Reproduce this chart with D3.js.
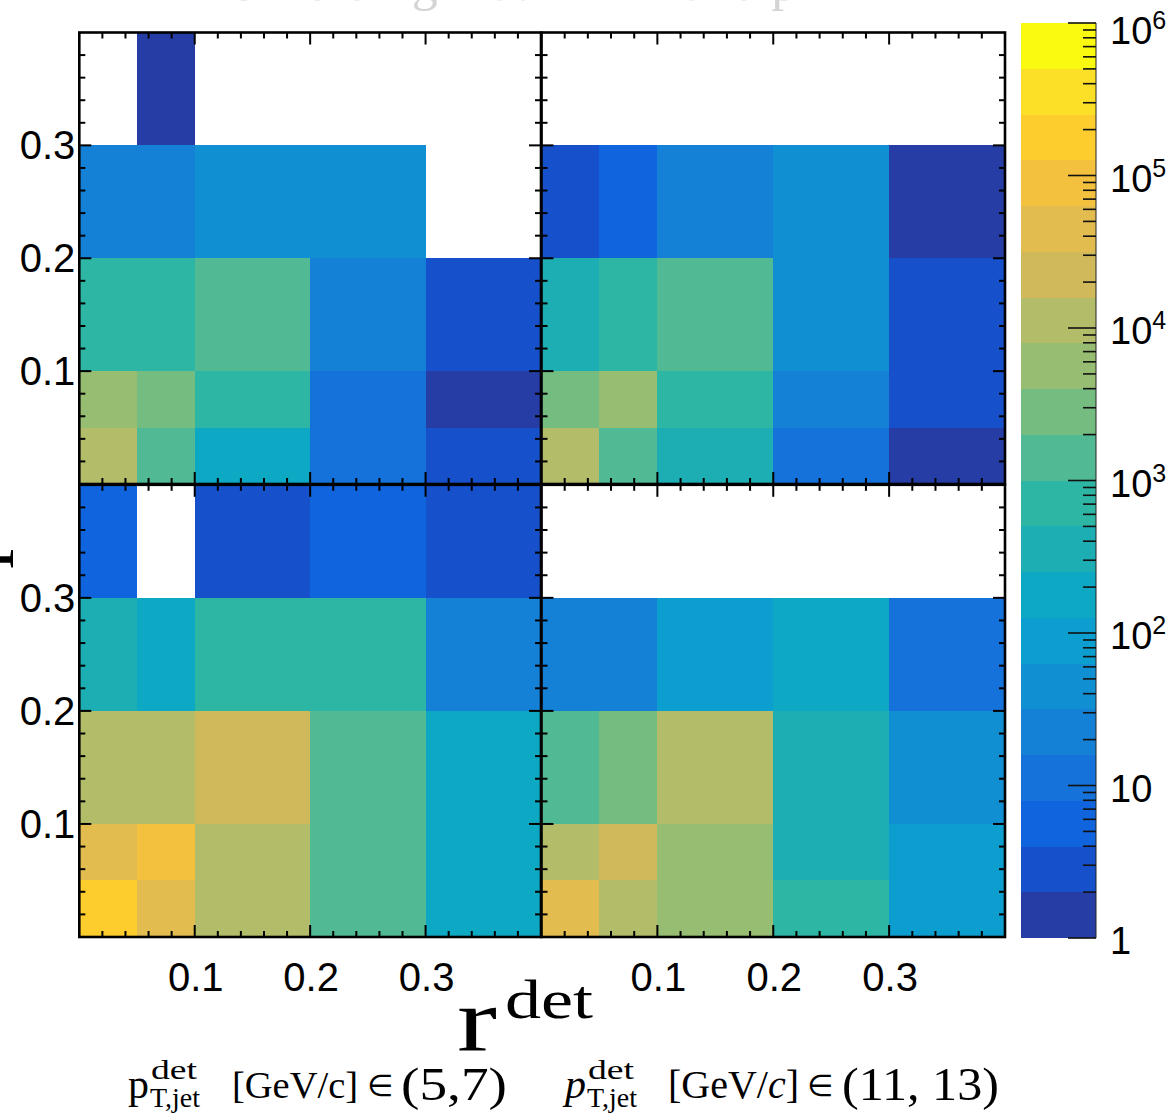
<!DOCTYPE html>
<html><head><meta charset="utf-8">
<script src="https://cdn.jsdelivr.net/npm/d3@7"></script>
<style>html,body{margin:0;padding:0;background:#fff}svg{display:block}</style>
</head><body>
<script>
// ---------- data ----------
const xEdges = [0, 0.05, 0.1, 0.2, 0.3, 0.4];
const yEdges = [0, 0.05, 0.1, 0.2, 0.3, 0.4];
const axisTicks = [0.1, 0.2, 0.3];
const colorbarTicks = [1, 10, 100, 1e3, 1e4, 1e5, 1e6];
const colorbarLabels = ["1", "10", "10|2", "10|3", "10|4", "10|5", "10|6"];
const ptRanges = ["(5,7)", "(11, 13)"];
// counts[y-bin][x-bin], y-bin 0 = [0,0.05)
const countsTopLeft = [
  [12000, 1500, 190, 12, 3],
  [6000, 3000, 760, 12, 1],
  [760, 760, 1500, 24, 3],
  [24, 24, 48, 48, null],
  [null, 1, null, null, null]
];
const countsTopRight = [
  [12000, 1500, 380, 12, 1],
  [3000, 6000, 760, 24, 3],
  [380, 760, 1500, 48, 3],
  [3, 6, 24, 48, 1],
  [null, null, null, null, null]
];
const countsBottomLeft = [
  [190000, 48000, 12000, 1500, 190],
  [48000, 95000, 12000, 1500, 190],
  [12000, 12000, 24000, 1500, 190],
  [380, 190, 760, 760, 24],
  [6, null, 3, 6, 3]
];
const countsBottomRight = [
  [48000, 12000, 6000, 760, 95],
  [12000, 24000, 6000, 380, 95],
  [1500, 3000, 12000, 380, 48],
  [24, 24, 95, 190, 12],
  [null, null, null, null, null]
];

// ---------- style ----------
const palette = ["#273da6","#1650cb","#1064de","#1572da","#1581d6","#118fd3","#0c9ece","#0da8c3",
  "#1daeb4","#2eb6a5","#52b995","#74bc7f","#97bd72","#b3bc68","#d0b95a","#e2bc4f",
  "#f3c13d","#fdcd2e","#fce027","#f9fa0f"];
const W = 1168, H = 1115;
const svg = d3.select("body").append("svg").attr("width", W).attr("height", H);

const colX = [[79.3, 541], [541.5, 1005]];
const rowY = [[32.5, 484], [484.8, 937]];
const panels = [
  {c: 0, r: 0, data: countsTopLeft},
  {c: 1, r: 0, data: countsTopRight},
  {c: 0, r: 1, data: countsBottomLeft},
  {c: 1, r: 1, data: countsBottomRight}
];
const levels = d3.range(1, 20).map(i => Math.pow(10, 0.3 * i));
const color = d3.scaleThreshold().domain(levels).range(palette);
const minorTicks = d3.range(1, 20).map(i => +(i * 0.02).toFixed(2));

// faint (clipped) title
svg.append("text").attr("x", 224).attr("y", 0)
  .attr("font-family", "Liberation Serif, serif").attr("font-size", 52)
  .attr("fill", "#d4d4d4").text("Unfolding matrix in r and p");

panels.forEach(p => {
  const x = d3.scaleLinear().domain([0, 0.4]).range(colX[p.c]);
  const y = d3.scaleLinear().domain([0, 0.4]).range([rowY[p.r][1], rowY[p.r][0]]);
  const g = svg.append("g");
  const cells = [];
  p.data.forEach((row, iy) => row.forEach((v, ix) => { if (v != null) cells.push({ix, iy, v}); }));
  g.selectAll("rect.cell").data(cells).join("rect")
    .attr("x", d => x(xEdges[d.ix]))
    .attr("width", d => x(xEdges[d.ix + 1]) - x(xEdges[d.ix]))
    .attr("y", d => y(yEdges[d.iy + 1]))
    .attr("height", d => y(yEdges[d.iy]) - y(yEdges[d.iy + 1]))
    .attr("fill", d => color(d.v))
    .attr("shape-rendering", "crispEdges");
  const [x0, x1] = x.range(), [y1, y0] = y.range();
  const tk = g.append("g").attr("stroke", "#000").attr("stroke-width", 2);
  minorTicks.forEach(t => {
    const L = axisTicks.some(a => Math.abs(a - t) < 1e-9) ? 12 : 6;
    tk.append("line").attr("x1", x(t)).attr("x2", x(t)).attr("y1", y1).attr("y2", y1 - L);
    tk.append("line").attr("x1", x(t)).attr("x2", x(t)).attr("y1", y0).attr("y2", y0 + L);
    tk.append("line").attr("y1", y(t)).attr("y2", y(t)).attr("x1", x0).attr("x2", x0 + L);
    tk.append("line").attr("y1", y(t)).attr("y2", y(t)).attr("x1", x1).attr("x2", x1 - L);
  });
  g.append("rect").attr("x", x0).attr("y", y0).attr("width", x1 - x0).attr("height", y1 - y0)
    .attr("fill", "none").attr("stroke", "#000").attr("stroke-width", 2.6);
  if (p.c === 0) {
    g.selectAll("text.yl").data(axisTicks).join("text")
      .attr("x", x0 - 4).attr("y", d => y(d) + 14)
      .attr("text-anchor", "end").attr("font-family", "Liberation Sans, Arial, sans-serif")
      .attr("font-size", 40).text(d => d.toFixed(1));
  }
  if (p.r === 1) {
    g.selectAll("text.xl").data(axisTicks).join("text")
      .attr("x", d => x(d) + 1).attr("y", y1 + 54)
      .attr("text-anchor", "middle").attr("font-family", "Liberation Sans, Arial, sans-serif")
      .attr("font-size", 40).text(d => d.toFixed(1));
  }
});

// ---------- colour bar ----------
const cb = {x0: 1021, x1: 1096};
const cy = d3.scaleLog().domain([1, 1e6]).range([938, 23]);
const bands = d3.range(20).map(i => ({lo: Math.pow(10, 0.3 * i), hi: Math.pow(10, 0.3 * (i + 1)), c: palette[i]}));
svg.append("g").selectAll("rect").data(bands).join("rect")
  .attr("x", cb.x0).attr("width", cb.x1 - cb.x0)
  .attr("y", d => cy(d.hi)).attr("height", d => cy(d.lo) - cy(d.hi))
  .attr("fill", d => d.c).attr("shape-rendering", "crispEdges");
svg.append("line").attr("x1", cb.x1).attr("x2", cb.x1).attr("y1", cy(1e6)).attr("y2", cy(1))
  .attr("stroke", "#222").attr("stroke-width", 1);
const cbt = svg.append("g").attr("stroke", "#111").attr("stroke-width", 1.6);
for (let e = 0; e < 6; e++) {
  for (let m = 2; m <= 9; m++) {
    const v = m * Math.pow(10, e);
    cbt.append("line").attr("x1", cb.x1 - 13).attr("x2", cb.x1).attr("y1", cy(v)).attr("y2", cy(v));
  }
}
colorbarTicks.forEach(v => {
  cbt.append("line").attr("x1", cb.x1 - 28).attr("x2", cb.x1).attr("y1", cy(v)).attr("y2", cy(v));
});
colorbarTicks.forEach((v, i) => {
  const parts = colorbarLabels[i].split("|");
  const off = v === 1e6 ? 21 : 16;
  const t = svg.append("text").attr("x", 1110).attr("y", cy(v) + off)
    .attr("font-family", "Liberation Sans, Arial, sans-serif").attr("font-size", 38).text(parts[0]);
  if (parts[1]) t.append("tspan").attr("dy", -15).attr("font-size", 25).text(parts[1]);
});

// ---------- axis titles ----------
const serif = "Liberation Serif, serif";
svg.append("text").attr("x", 457).attr("y", 1051).attr("font-family", serif)
  .attr("font-size", 92).attr("textLength", 40).attr("lengthAdjust", "spacingAndGlyphs").text("r");
svg.append("text").attr("x", 505).attr("y", 1018).attr("font-family", serif)
  .attr("font-size", 54).attr("textLength", 88).attr("lengthAdjust", "spacingAndGlyphs").text("det");

svg.append("text").attr("transform", "translate(13,569) rotate(-90)")
  .attr("font-family", serif).attr("font-size", 80)
  .text("r").append("tspan").attr("dy", -36).attr("font-size", 48).text("gen");

// ---------- p_T bin labels ----------
const ptLayout = [
  {x: 128, italic: false, rng: ptRanges[0], gev: 232, gevSize: 38.5, inX: 367, rngX: 401, rngW: 106},
  {x: 565, italic: true, rng: ptRanges[1], gev: 668, gevSize: 40, inX: 807, rngX: 842, rngW: 157}
];
ptLayout.forEach(o => {
  const fs = o.italic ? "italic" : "normal";
  svg.append("text").attr("x", o.x).attr("y", 1098).attr("font-family", serif)
    .attr("font-size", 42).attr("font-style", fs).text("p");
  svg.append("text").attr("x", o.x + 23).attr("y", 1079).attr("font-family", serif)
    .attr("font-size", 28).attr("textLength", 46).attr("lengthAdjust", "spacingAndGlyphs").text("det");
  svg.append("text").attr("x", o.x + 22).attr("y", 1107).attr("font-family", serif)
    .attr("font-size", 28).attr("textLength", 50).attr("lengthAdjust", "spacingAndGlyphs").text("T,jet");
  const g2 = svg.append("text").attr("x", o.gev).attr("y", 1098).attr("font-family", serif)
    .attr("font-size", o.gevSize);
  g2.append("tspan").text("[GeV/");
  g2.append("tspan").attr("font-style", fs).text("c");
  g2.append("tspan").text("]");
  svg.append("text").attr("x", o.inX).attr("y", 1096).attr("font-family", "DejaVu Sans, sans-serif")
    .attr("font-size", 30).text("∈");
  svg.append("text").attr("x", o.rngX).attr("y", 1100).attr("font-family", serif)
    .attr("font-size", 46).attr("textLength", o.rngW).attr("lengthAdjust", "spacingAndGlyphs").text(o.rng);
});
</script>
</body></html>
